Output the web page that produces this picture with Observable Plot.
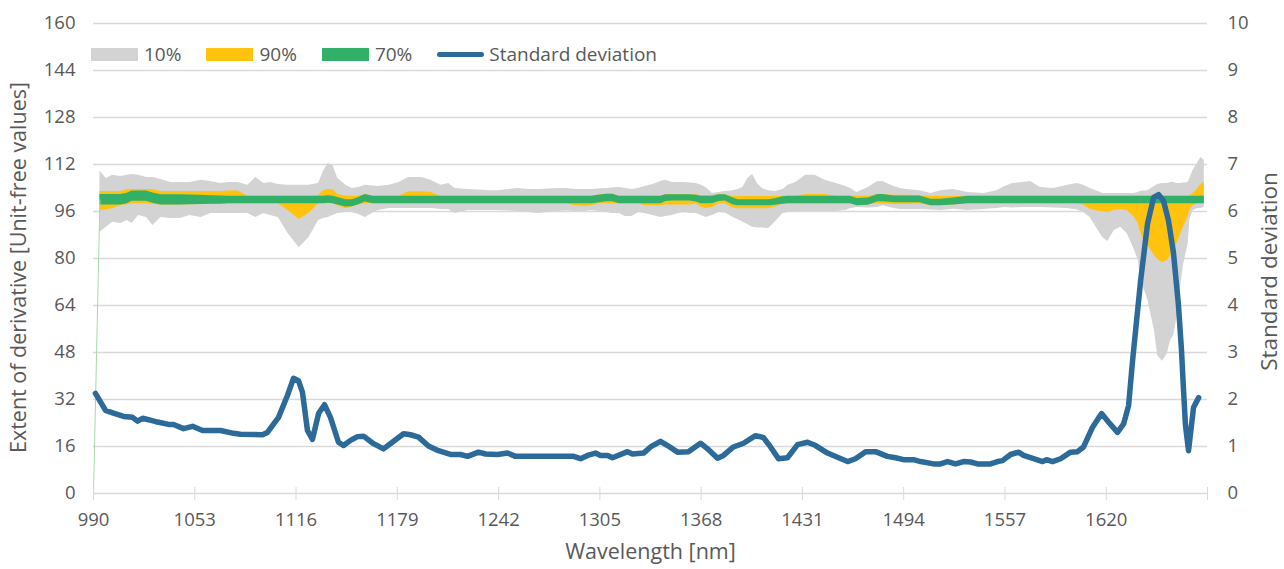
<!DOCTYPE html>
<html><head><meta charset="utf-8">
<script src="https://cdn.jsdelivr.net/npm/d3@7"></script>
<script src="https://cdn.jsdelivr.net/npm/@observablehq/plot@0.6"></script>
<style>
body{margin:0;background:#fff;}
#wrap{position:relative;width:1284px;height:569px;overflow:hidden;font-family:"Open Sans",sans-serif;}
#legend{position:absolute;left:91px;top:42px;height:24px;display:flex;align-items:center;font-size:19px;color:#595959;}
.item{display:flex;align-items:center;margin-right:25px;}
.sw{width:47px;height:13px;margin-right:6px;}
.ln{width:47px;height:5px;border-radius:3px;margin-right:5px;}
</style></head><body><div id="wrap"><div id="legend"></div></div>
<script>
// ---- data ----
const wavelength = [994,998,1002,1007,1011,1014,1018,1023,1027,1032,1038,1044,1050,1057,1063,1069,1074,1080,1086,1091,1096,1100,1105,1111,1118,1124,1130,1133,1136,1139,1142,1147,1151,1155,1159,1164,1167,1174,1180,1186,1194,1200,1206,1211,1215,1223,
1230,1237,1242,1248,1254,1261,1267,1273,1279,1284,1290,1296,1300,1304,1309,1313,1317,1321,1325,1329,1333,1338,1343,1346,1350,1354,1358,1361,1365,1368,1371,1375,1379,1383,1388,1391,1394,1397,1400,1403,1406,1410,1414,1419,1422,1427,1433,1439,1445,1452,1458,
1461,1465,1472,1478,1481,1488,1492,1496,1504,1511,1517,1525,1534,1544,1552,1557,1562,1568,1573,1579,1587,1596,1602,1606,1610,1615,1618,1621,1625,1629,1633,1637,1640,1641,1643,1646,1648,1650,1652,1655,1658,1660,1662,1664,1666,1668,1671,1672,1674,1677,1679,1681];

const gray10High = [109.8,107.2,108.3,107.9,108.3,108.6,108.3,107.6,107.6,106.9,105.9,105.9,105.9,106.6,106.2,105.5,105.9,105.9,104.9,107.6,105.5,105.9,105.2,104.9,104.9,104.9,105.5,109.6,112.3,111.7,107.2,104.9,103.8,104.2,104.9,104.7,104.5,104.9,105.9,107.6,107.6,106.6,104.9,105.5,103.8,103.5,
103.3,103.1,103.1,103.5,103.8,103.5,103.5,103.7,103.8,103.8,103.5,103.5,103.5,103.7,103.8,104.0,104.2,103.8,103.5,103.8,104.5,105.2,106.2,106.6,105.9,105.9,105.9,105.7,105.5,104.9,104.2,102.1,102.5,102.8,103.1,103.5,104.2,107.2,108.6,105.5,103.8,103.1,102.8,103.5,104.9,105.9,108.3,108.3,106.6,105.5,104.5,
103.8,102.5,104.2,106.2,106.2,104.5,103.8,103.5,103.1,102.1,103.1,103.5,102.5,102.1,103.1,104.5,105.5,105.9,106.2,104.2,103.8,104.9,105.5,104.9,103.8,102.8,102.1,102.1,102.1,102.1,102.1,102.1,102.5,102.8,103.0,103.1,103.8,104.5,105.2,105.5,105.5,105.9,105.9,105.5,105.5,105.7,105.9,107.2,110.0,112.7,114.4,113.4];

const gray10Low = [88.9,90.6,92.3,91.9,92.9,91.9,94.6,94.0,91.2,94.0,93.6,93.6,94.6,94.0,95.3,95.3,95.3,95.3,95.3,94.0,95.3,94.6,94.0,88.5,83.7,87.1,92.9,93.6,94.0,94.6,95.3,95.7,95.7,95.0,94.0,95.5,96.3,97.0,97.0,97.0,97.0,97.0,96.7,96.7,95.3,96.3,
96.3,96.3,96.3,96.2,96.0,95.7,95.3,95.7,96.0,96.2,96.0,96.0,96.3,96.0,95.7,95.3,95.3,94.3,94.3,95.7,95.3,94.6,94.0,94.3,94.6,95.3,95.7,95.3,95.3,94.6,94.0,94.6,95.7,95.5,94.0,93.3,92.3,91.6,90.6,90.4,90.4,90.2,92.3,95.3,95.7,96.0,96.0,96.0,96.0,96.0,96.3,
97.0,97.4,97.2,97.4,98.0,97.0,96.7,96.7,96.7,96.5,96.3,96.8,96.3,96.7,97.0,97.4,97.2,97.4,97.4,97.4,97.2,97.0,96.5,95.7,94.0,89.5,87.1,85.8,89.5,90.6,88.5,83.7,79.3,74.9,70.5,65.7,60.6,55.5,47.0,45.0,47.5,52.1,53.8,59.9,69.1,77.6,85.1,92.9,96.3,97.0,97.0,97.4];

const yellow90High = [102.8,102.8,102.8,102.8,103.5,103.5,103.5,103.5,103.5,102.8,102.8,102.8,102.8,102.8,102.8,102.7,103.0,103.0,101.2,101.2,101.2,101.2,101.2,101.2,101.2,101.2,101.4,103.1,103.5,103.5,101.8,101.2,101.2,101.2,101.8,101.2,101.2,101.2,101.2,102.7,102.7,102.5,101.2,101.2,101.2,101.2,
101.2,101.2,101.2,101.2,101.2,101.2,101.2,101.2,101.2,101.2,101.2,101.2,101.2,101.5,101.9,101.9,101.2,101.2,101.2,101.2,101.2,101.2,101.2,101.7,101.7,101.7,101.7,101.7,101.7,101.4,101.4,101.4,101.7,101.7,101.1,101.1,101.1,101.1,101.1,101.1,101.1,101.1,101.1,101.2,101.2,101.2,101.8,101.8,101.8,101.2,101.2,
101.2,101.2,101.2,101.8,101.8,101.5,101.5,101.5,101.4,101.1,101.1,101.1,101.2,101.2,101.2,101.2,101.2,101.2,101.2,101.2,101.2,101.2,101.2,101.2,101.2,101.2,101.2,101.2,101.2,101.2,101.2,101.2,101.2,101.2,101.2,101.2,101.2,101.2,101.2,101.2,101.2,101.2,101.2,101.2,101.2,101.2,101.2,101.4,102.1,103.8,105.2,105.9];

const yellow90Low = [96.3,96.5,97.0,98.0,98.3,98.6,98.6,98.6,98.4,98.2,98.2,98.2,98.3,98.4,98.5,98.5,98.6,98.6,98.6,98.6,98.6,98.6,98.6,96.3,93.3,95.3,98.6,98.6,98.6,98.6,98.0,96.9,97.5,98.2,98.6,98.6,98.6,98.6,98.6,98.6,98.6,98.6,98.6,98.6,98.6,98.6,
98.6,98.6,98.6,98.6,98.6,98.6,98.6,98.6,98.6,98.6,98.0,97.7,98.0,98.6,98.6,98.6,98.6,98.6,98.6,98.6,98.0,98.0,98.0,98.2,98.2,98.2,98.2,98.2,98.6,97.5,97.0,97.4,98.6,98.6,97.2,96.9,96.9,96.9,96.9,96.9,96.9,96.9,97.5,98.6,98.6,98.6,98.6,98.6,98.6,98.6,98.6,
98.6,98.3,98.3,98.6,98.6,98.4,98.4,98.4,98.6,98.0,98.0,98.2,98.6,98.6,98.6,98.6,98.6,98.6,98.6,98.6,98.6,98.6,98.6,98.2,96.8,96.1,95.9,95.7,96.3,96.7,96.3,94.3,91.9,89.5,86.8,84.4,82.7,81.0,79.7,78.6,79.3,81.0,82.7,85.1,87.8,90.6,94.3,96.3,98.0,98.6,98.6,98.6];

const green70High = [101.8,101.8,101.8,101.8,102.2,103.0,103.0,103.0,102.3,101.7,101.7,101.7,101.6,101.5,101.4,101.3,101.2,101.2,101.2,101.2,101.2,101.2,101.2,101.2,101.2,101.2,101.2,101.2,101.4,101.2,100.8,100.0,100.0,100.8,101.8,101.2,101.2,101.2,101.2,101.2,101.2,101.2,101.2,101.2,101.2,101.2,
101.2,101.2,101.2,101.2,101.2,101.2,101.2,101.2,101.2,101.2,101.2,101.2,101.2,101.5,101.9,101.9,101.2,101.2,101.2,101.2,101.2,101.2,101.2,101.7,101.7,101.7,101.7,101.7,101.5,101.2,101.2,101.2,101.7,101.7,100.6,100.0,100.0,100.0,100.0,100.0,100.0,100.0,100.3,101.0,101.2,101.2,101.2,101.2,101.2,101.2,101.2,
101.2,100.4,100.6,101.8,101.8,101.3,101.3,101.3,101.3,100.2,100.2,100.6,101.2,101.2,101.2,101.2,101.2,101.2,101.2,101.2,101.2,101.2,101.2,101.2,101.2,101.2,101.2,101.2,101.2,101.2,101.2,101.2,101.2,101.2,101.2,101.2,101.2,101.2,101.2,101.2,101.2,101.2,101.2,101.2,101.2,101.2,101.2,101.2,101.2,101.2,101.2,101.2];

const green70Low = [98.2,98.2,98.2,98.2,98.6,99.5,99.5,99.5,98.8,98.2,98.2,98.2,98.3,98.4,98.5,98.5,98.6,98.6,98.6,98.6,98.6,98.6,98.6,98.6,98.6,98.6,98.6,98.6,98.8,98.6,98.2,97.5,97.6,98.3,99.2,98.6,98.6,98.6,98.6,98.6,98.6,98.6,98.6,98.6,98.6,98.6,
98.6,98.6,98.6,98.6,98.6,98.6,98.6,98.6,98.6,98.6,98.6,98.6,98.6,98.9,99.3,99.3,98.6,98.6,98.6,98.6,98.6,98.6,98.6,99.4,99.6,99.6,99.6,99.6,99.2,98.6,98.6,98.6,99.4,99.6,98.2,98.0,98.0,98.0,98.0,98.0,98.0,98.0,98.1,98.5,98.6,98.6,98.6,98.6,98.6,98.6,98.6,
98.6,98.0,98.1,99.3,99.3,99.0,99.0,99.0,99.0,98.0,98.0,98.2,98.6,98.6,98.6,98.6,98.6,98.6,98.6,98.6,98.6,98.6,98.6,98.6,98.6,98.6,98.6,98.6,98.6,98.6,98.6,98.6,98.6,98.6,98.6,98.6,98.6,98.6,98.6,98.6,98.6,98.6,98.6,98.6,98.6,98.6,98.6,98.6,98.6,98.6,98.6,98.6];

const stdWavelength = [991.2,997.5,1002.4,1008.7,1014.3,1017.4,1020.5,1024.2,1029.8,1036.7,1039.8,1046.0,1051.6,1057.8,1069.0,1077.1,1081.4,1095.1,1098.2,1105.1,1110.7,1114.4,1117.5,1120.0,1123.1,1126.2,1130.0,1133.7,1137.4,1142.4,1145.5,1149.9,1154.2,1158.0,1164.2,1170.4,1176.7,1182.9,1187.2,1192.2,1198.4,1204.6,1212.1,1218.3,1222.7,1229.5,1233.9,1241.3,1247.6,1252.5,1288.6,1293.0,1297.3,1302.3,1305.4,1309.8,1312.9,1322.2,1325.3,1332.2,1336.5,1342.7,1347.1,1353.3,1360.1,1367.6,1372.0,1378.2,1381.9,1388.1,1394.4,1401.8,1406.8,1411.2,1416.1,1421.7,1428.0,1434.2,1439.2,1446.6,1452.8,1459.1,1464.0,1470.3,1476.5,1483.9,1488.9,1493.9,1500.1,1504.5,1512.6,1516.9,1521.3,1526.3,1531.2,1535.6,1539.9,1548.0,1552.4,1555.5,1560.5,1565.4,1568.6,1574.8,1580.4,1582.9,1586.6,1591.6,1597.8,1602.1,1605.9,1611.5,1617.1,1621.4,1627.0,1630.8,1633.9,1636.4,1641.4,1645.7,1649.5,1652.6,1655.6,1658.7,1661.8,1664.9,1666.8,1668.1,1669.3,1671.2,1674.3,1677.5];
const stdDev = [2.13,1.77,1.71,1.64,1.62,1.54,1.60,1.57,1.52,1.47,1.47,1.38,1.43,1.34,1.34,1.28,1.26,1.25,1.30,1.62,2.09,2.45,2.40,2.15,1.34,1.15,1.70,1.89,1.62,1.09,1.02,1.13,1.21,1.22,1.06,0.95,1.11,1.27,1.25,1.20,1.01,0.91,0.83,0.83,0.79,0.88,0.84,0.83,0.86,0.79,0.79,0.74,0.81,0.86,0.81,0.81,0.76,0.89,0.84,0.86,0.99,1.11,1.02,0.88,0.89,1.07,0.95,0.75,0.81,0.99,1.07,1.23,1.19,0.99,0.74,0.76,1.04,1.09,1.02,0.86,0.77,0.68,0.74,0.89,0.89,0.79,0.76,0.72,0.72,0.68,0.63,0.63,0.68,0.63,0.68,0.67,0.63,0.63,0.68,0.70,0.83,0.88,0.81,0.74,0.68,0.72,0.68,0.74,0.88,0.89,0.99,1.41,1.70,1.52,1.30,1.48,1.87,2.83,4.53,5.74,6.30,6.36,6.23,5.81,5.13,4.02,3.06,2.19,1.45,0.91,1.83,2.04];

const edgeWavelength = [990, 994];
const edgeValue = [0, 100];

const leftTicks = [0,16,32,48,64,80,96,112,128,144,160];
const rightTicks = [0,1,2,3,4,5,6,7,8,9,10];
const xTickLabels = [990,1053,1116,1179,1242,1305,1368,1431,1494,1557,1620];
const xTickMarks = [990,1053,1116,1179,1242,1305,1368,1431,1494,1557,1620,1683];
const xDomain = [990, 1683];
const leftDomain = [0, 160];
const rightDomain = [0, 10];

const legendLabels = ["10%", "90%", "70%", "Standard deviation"];
const legendKinds = ["area", "area", "area", "line"];
const colors = {gray: "#d3d3d3", yellow: "#ffc20e", green: "#33b067", blue: "#2b6a99"};
const legendColors = [colors.gray, colors.yellow, colors.green, colors.blue];

const titleX = "Wavelength [nm]";
const titleLeft = "Extent of derivative [Unit-free values]";
const titleRight = "Standard deviation";

// ---- build ----
const k = leftDomain[1] / rightDomain[1];
const bands = wavelength.map((w, i) => ({
  w, gl: gray10Low[i], gu: gray10High[i], yl: yellow90Low[i], yu: yellow90High[i], nl: green70Low[i], nu: green70High[i]
}));
const std = stdWavelength.map((w, i) => ({w, s: stdDev[i]}));
const edge = edgeWavelength.map((w, i) => ({w, v: edgeValue[i]}));

const chart = Plot.plot({
  width: 1284, height: 569,
  marginLeft: 93, marginRight: 77, marginTop: 23, marginBottom: 76,
  style: {fontFamily: '"Open Sans", sans-serif', fontSize: "18.5px", color: "#595959", background: "#fff", overflow: "visible"},
  x: {type: "linear", domain: xDomain},
  y: {domain: leftDomain},
  marks: [
    Plot.ruleY(leftTicks, {stroke: "#d9d9d9", strokeWidth: 1.3}),
    Plot.areaY(bands, {x: "w", y1: "gl", y2: "gu", fill: colors.gray}),
    Plot.areaY(bands, {x: "w", y1: "yl", y2: "yu", fill: colors.yellow}),
    Plot.areaY(bands, {x: "w", y1: "nl", y2: "nu", fill: colors.green}),
    Plot.line(edge, {x: "w", y: "v", stroke: "#a8d8a8", strokeWidth: 1}),
    Plot.line(std, {x: "w", y: d => d.s * k, stroke: colors.blue, strokeWidth: 5.5, strokeLinejoin: "round", strokeLinecap: "round"}),
    Plot.axisX(xTickMarks, {tickSize: 13, dy: -6, tickFormat: () => "", stroke: "#d9d9d9", label: null}),
    Plot.axisX(xTickLabels, {tickSize: 0, tickPadding: 19, tickFormat: d => String(d), label: null}),
    Plot.axisY(leftTicks, {anchor: "left", tickSize: 0, tickPadding: 18, tickFormat: d => String(d), label: null}),
    Plot.axisY(rightTicks.map(d => d * k), {anchor: "right", tickSize: 0, tickPadding: 20, tickFormat: d => String(d / k), label: null}),
    Plot.text([titleX], {frameAnchor: "bottom", textAnchor: "middle", dy: 65, fontSize: 21.5, text: d => d}),
    Plot.text([titleLeft], {frameAnchor: "left", textAnchor: "middle", dx: -74, dy: 9, rotate: -90, fontSize: 21.5, text: d => d}),
    Plot.text([titleRight], {frameAnchor: "right", textAnchor: "middle", dx: 62, dy: 13, rotate: -90, fontSize: 22.5, text: d => d})
  ]
});
const wrap = document.getElementById("wrap");
wrap.insertBefore(chart, wrap.firstChild);

const legend = document.getElementById("legend");
legendLabels.forEach((label, i) => {
  const item = document.createElement("div");
  item.className = "item";
  const sw = document.createElement("div");
  sw.className = legendKinds[i] === "line" ? "ln" : "sw";
  sw.style.background = legendColors[i];
  const t = document.createElement("span");
  t.textContent = label;
  item.appendChild(sw); item.appendChild(t);
  legend.appendChild(item);
});
</script></body></html>
